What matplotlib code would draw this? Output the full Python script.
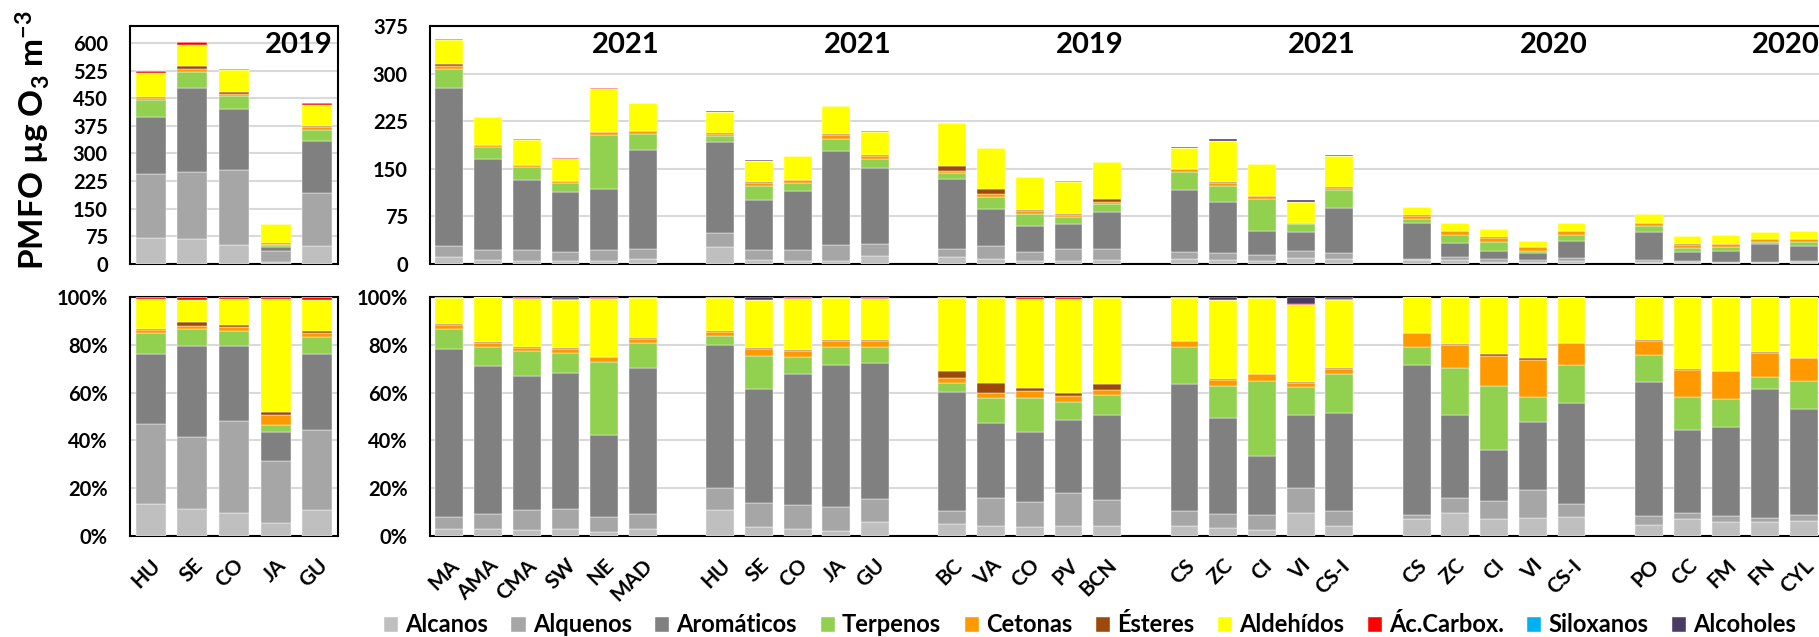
import matplotlib.pyplot as plt
import numpy as np

plt.rcParams['font.family'] = ['Lato', 'DejaVu Sans']
plt.rcParams['font.weight'] = 'bold'
plt.rcParams['mathtext.fontset'] = 'custom'
plt.rcParams['mathtext.rm'] = 'Lato'
plt.rcParams['mathtext.bf'] = 'Lato:bold'
plt.rcParams['mathtext.default'] = 'bf'

# VOC families and colours
classes = ['Alcanos', 'Alquenos', 'Aromáticos', 'Terpenos', 'Cetonas',
           'Ésteres', 'Aldehídos', 'Ác.Carbox.', 'Siloxanos', 'Alcoholes']
colors = ['#bfbfbf', '#a6a6a6', '#808080', '#92d050', '#ff9900',
          '#9c4a0c', '#ffff00', '#ff0000', '#00b0f0', '#4b3b63']

# ---- left panel (2019) ----
left_sites = ['HU', 'SE', 'CO', 'JA', 'GU']
left_year = '2019'
left_total = [524, 602, 530, 109, 437]          # PMFO, ug O3 m-3
left_alcanos = [13.4, 11.3, 9.8, 5.4, 10.9]     # % share
left_alquenos = [33.5, 30.2, 38.4, 26.0, 33.5]
left_aromaticos = [29.4, 37.8, 31.3, 12.0, 31.9]
left_terpenos = [8.6, 7.3, 6.4, 3.0, 6.9]
left_cetonas = [1.4, 1.1, 1.4, 4.4, 1.7]
left_esteres = [0.2, 1.7, 0.8, 0.9, 0.7]
left_aldehidos = [12.6, 9.2, 11.1, 47.5, 13.3]
left_carbox = [1.0, 1.3, 0.8, 0.8, 1.1]
left_siloxanos = [0, 0, 0, 0, 0]
left_alcoholes = [0, 0.1, 0, 0, 0]

# ---- right panel ----
right_groups = [['MA', 'AMA', 'CMA', 'SW', 'NE', 'MAD'],
                ['HU', 'SE', 'CO', 'JA', 'GU'],
                ['BC', 'VA', 'CO', 'PV', 'BCN'],
                ['CS', 'ZC', 'CI', 'VI', 'CS-I'],
                ['CS', 'ZC', 'CI', 'VI', 'CS-I'],
                ['PO', 'CC', 'FM', 'FN', 'CYL']]
right_years = ['2021', '2021', '2019', '2021', '2020', '2020']
right_total = [355, 232, 197.5, 167.5, 278, 254,
               240.6, 163.8, 170.6, 249.6, 209.6,
               222.7, 183.3, 137.4, 130.6, 161.1,
               183.8, 196.4, 158, 101, 172.2,
               90, 64.8, 55.3, 35.8, 64.8,
               79, 44.2, 45.8, 51, 52.7]
right_alcanos = [2.9, 2.9, 2.5, 2.9, 1.7, 2.9,
                 10.9, 3.8, 2.9, 2.2, 5.9,
                 5.0, 4.2, 3.8, 4.2, 4.2,
                 4.2, 3.4, 2.5, 9.8, 4.2,
                 7.1, 9.8, 7.1, 7.6, 8.1,
                 4.6, 7.1, 5.9, 5.9, 6.3]
right_alquenos = [5.2, 6.3, 8.4, 8.4, 6.3, 6.3,
                  9.2, 9.9, 10.1, 10.0, 9.5,
                  5.6, 11.7, 10.5, 14.0, 10.9,
                  6.3, 5.8, 6.3, 10.3, 6.3,
                  1.7, 6.1, 7.6, 11.7, 5.3,
                  3.8, 2.6, 2.5, 1.7, 2.5]
right_aromaticos = [70.1, 62.0, 56.0, 56.8, 34.4, 61.3,
                    59.8, 47.8, 54.8, 59.3, 56.9,
                    49.8, 31.5, 29.3, 30.5, 35.7,
                    53.0, 40.3, 24.5, 30.4, 40.8,
                    62.7, 34.6, 21.4, 28.3, 42.5,
                    56.2, 34.9, 37.1, 53.8, 44.2]
right_terpenos = [8.4, 8.0, 10.3, 8.3, 30.6, 10.2,
                  3.9, 13.9, 7.0, 7.7, 6.9,
                  3.8, 10.5, 14.3, 7.5, 8.1,
                  15.7, 13.3, 31.7, 11.7, 16.4,
                  7.7, 19.8, 26.8, 10.6, 15.7,
                  11.1, 13.7, 12.0, 5.2, 11.9]
right_cetonas = [1.5, 1.4, 1.5, 1.8, 1.8, 1.7,
                 1.5, 2.8, 2.7, 2.5, 2.2,
                 1.7, 2.1, 2.8, 2.5, 2.2,
                 2.2, 2.4, 2.7, 1.9, 2.2,
                 5.7, 9.7, 12.6, 15.6, 9.1,
                 6.1, 11.2, 11.4, 9.9, 9.5]
right_esteres = [0.6, 0.4, 0.3, 0.3, 0.2, 0.4,
                 0.4, 0.4, 0.4, 0.3, 0.4,
                 3.2, 4.2, 1.4, 1.3, 2.7,
                 0.1, 0.3, 0.1, 0.2, 0.3,
                 0.1, 0.3, 0.6, 0.7, 0.3,
                 0.2, 0.3, 0.2, 0.4, 0.1]
right_aldehidos = [10.9, 18.8, 20.3, 20.4, 24.3, 16.9,
                   14.0, 20.0, 21.4, 17.6, 17.5,
                   30.5, 35.4, 37.2, 39.3, 35.6,
                   18.1, 33.1, 31.6, 32.2, 28.5,
                   15.0, 19.7, 23.9, 25.5, 19.0,
                   18.0, 30.2, 30.9, 23.1, 25.5]
right_carbox = [0.2, 0.1, 0.4, 0.4, 0.2, 0.1,
                0.1, 0.3, 0.4, 0.2, 0.4,
                0.4, 0.4, 0.5, 0.5, 0.5,
                0.2, 0.3, 0.3, 0.4, 0.3,
                0.1, 0.1, 0.1, 0.1, 0.1,
                0.1, 0.1, 0.1, 0.1, 0.1]
right_siloxanos = [0] * 31
right_alcoholes = [0.2, 0.1, 0.3, 0.7, 0.5, 0.2,
                   0.2, 1.1, 0.3, 0.2, 0.3,
                   0.0, 0.0, 0.2, 0.2, 0.1,
                   0.2, 1.1, 0.3, 3.1, 1.0,
                   0, 0, 0, 0, 0,
                   0, 0, 0, 0, 0]

left_shares = np.array([left_alcanos, left_alquenos, left_aromaticos, left_terpenos,
                        left_cetonas, left_esteres, left_aldehidos, left_carbox,
                        left_siloxanos, left_alcoholes], dtype=float)
right_shares = np.array([right_alcanos, right_alquenos, right_aromaticos, right_terpenos,
                         right_cetonas, right_esteres, right_aldehidos, right_carbox,
                         right_siloxanos, right_alcoholes], dtype=float)

# x positions: one empty slot between groups
right_x = []
right_labels = []
year_x = []
pos = 0
for g in right_groups:
    for s in g:
        right_x.append(pos)
        right_labels.append(s)
        pos += 1
    year_x.append(pos - 1 - 0.45)
    pos += 1
right_x = np.array(right_x)
left_x = np.arange(len(left_sites))

fig = plt.figure(figsize=(18.19, 6.37), dpi=100)
W, H = 1819, 637


def box(x0, y0, x1, y1):
    return [x0 / W, 1 - y1 / H, (x1 - x0) / W, (y1 - y0) / H]


ax_lt = fig.add_axes(box(130, 26, 338, 264))
ax_lb = fig.add_axes(box(130, 297, 338, 536))
ax_rt = fig.add_axes(box(430, 26, 1823, 264))
ax_rb = fig.add_axes(box(430, 297, 1823, 536))


def stack(ax, x, shares, total=None):
    frac = shares / shares.sum(axis=0)
    vals = frac * (np.array(total) if total is not None else 100.0)
    bottom = np.zeros(len(x))
    for i in range(len(classes)):
        ax.bar(x, vals[i], bottom=bottom, width=0.72, color=colors[i],
               edgecolor='white', linewidth=0.3, zorder=3, label=classes[i])
        bottom += vals[i]


stack(ax_lt, left_x, left_shares, left_total)
stack(ax_lb, left_x, left_shares)
stack(ax_rt, right_x, right_shares, right_total)
stack(ax_rb, right_x, right_shares)

for ax in [ax_lt, ax_lb, ax_rt, ax_rb]:
    for sp in ax.spines.values():
        sp.set_color('black')
        sp.set_linewidth(1.5)
    ax.yaxis.grid(True, color='#d9d9d9', linewidth=1.5, zorder=0)
    ax.set_axisbelow(True)
    ax.tick_params(axis='y', length=0, pad=16, labelsize=14.5)
    ax.tick_params(axis='x', length=0, labelsize=15)

ax_lt.set_xlim(-0.5, len(left_sites) - 0.5)
ax_lb.set_xlim(-0.5, len(left_sites) - 0.5)
ax_rt.set_xlim(-0.5, right_x[-1] + 0.5)
ax_rb.set_xlim(-0.5, right_x[-1] + 0.5)

ax_lt.set_ylim(0, 646)
ax_lt.set_yticks(np.arange(0, 601, 75))
ax_rt.set_ylim(0, 375)
ax_rt.set_yticks(np.arange(0, 376, 75))
for ax in [ax_lb, ax_rb]:
    ax.set_ylim(0, 100)
    ax.set_yticks(np.arange(0, 101, 20))
    ax.set_yticklabels([f'{v}%' for v in range(0, 101, 20)])

ax_lt.set_xticks([])
ax_rt.set_xticks([])
ax_lb.set_xticks(left_x)
ax_lb.set_xticklabels(left_sites, rotation=45, ha='right', va='top',
                      rotation_mode='anchor', fontweight='bold')
ax_rb.set_xticks(right_x)
ax_rb.set_xticklabels(right_labels, rotation=45, ha='right', va='top',
                      rotation_mode='anchor', fontweight='bold')
ax_lb.tick_params(axis='x', pad=14)
ax_rb.tick_params(axis='x', pad=14)

ax_lt.text(len(left_sites) - 1 - 0.45, 0.92, left_year, transform=ax_lt.get_xaxis_transform(),
           ha='center', va='center', fontsize=21, fontweight='bold')
for xx, yr in zip(year_x, right_years):
    ax_rt.text(xx, 0.92, yr, transform=ax_rt.get_xaxis_transform(),
               ha='center', va='center', fontsize=21, fontweight='bold', clip_on=False)

fig.text(0.018, 1 - 140 / H, r'PMFO µg O$_3$ m$^{-3}$', rotation=90,
         ha='center', va='center', fontsize=24, fontweight='bold')

handles, labels = ax_lt.get_legend_handles_labels()
fig.legend(handles, labels, loc='center', bbox_to_anchor=(1090 / W, 1 - 625 / H),
           ncol=10, frameon=False, prop={'size': 17, 'weight': 'bold'},
           handlelength=0.6, handleheight=0.6, handletextpad=0.3, columnspacing=1.0)

fig.savefig('out.png', dpi=100)
